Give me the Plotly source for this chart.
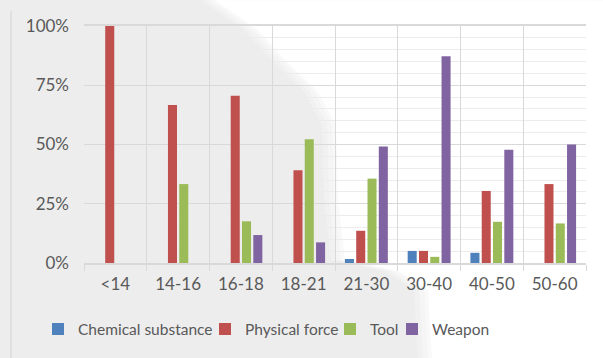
import plotly.graph_objects as go

# Age groups and share of each method per group
age_groups = ["<14", "14-16", "16-18", "18-21", "21-30", "30-40", "40-50", "50-60"]
chemical = [0, 0, 0, 0, 0.017, 0.051, 0.043, 0]
physical = [1.0, 0.667, 0.706, 0.391, 0.136, 0.051, 0.304, 0.333]
tool = [0, 0.333, 0.176, 0.522, 0.356, 0.026, 0.174, 0.167]
weapon = [0, 0, 0.118, 0.087, 0.492, 0.872, 0.478, 0.5]
y_ticks = [0, 0.25, 0.5, 0.75, 1.0]
y_tick_text = ["0%", "25%", "50%", "75%", "100%"]

series = [
    ("Chemical substance", chemical, "#4F81BD"),
    ("Physical force", physical, "#C0504D"),
    ("Tool", tool, "#9BBB59"),
    ("Weapon", weapon, "#8064A2"),
]

W, H = 603, 358
ML, MR, MT, MB = 84, 17, 26, 93
PW, PH = W - ML - MR, H - MT - MB


def px(x, y):
    """Convert a pixel position on the page to paper coordinates."""
    return (x - ML) / PW, (H - MB - y) / PH


def path(points, dx=0):
    pts = [px(x + dx, y) for x, y in points]
    return "M" + " L".join(f"{a:.4f},{b:.4f}" for a, b in pts) + " Z"


# Each legend entry sits in its own legend box so the row spacing can be set
legend_left = [38, 205, 330, 392]
legend_names = ["legend", "legend2", "legend3", "legend4"]

fig = go.Figure()
for (name, vals, color), lg in zip(series, legend_names):
    fig.add_trace(go.Bar(
        x=age_groups, y=vals, name=name, legend=lg,
        marker=dict(color=color, line=dict(width=0)),
    ))

# Soft white light sweeping over the grey backdrop
edge = [(215, 0), (W + 5, 0), (W + 5, H + 5), (432, H + 5), (428, 292), (398, 273),
        (345, 262), (338, 200), (336, 126), (318, 92), (285, 60), (258, 30)]
shapes = []
for dx, op in [(-14, 0.25), (-9, 0.3), (-4, 0.4), (0, 1.0)]:
    shapes.append(dict(type="path", xref="paper", yref="paper", path=path(edge, dx),
                       fillcolor="white", opacity=op, line=dict(width=0), layer="below"))
# Thin frame line at the left of the canvas
x0, y0 = px(11, 11)
x1, y1 = px(11, H + 5)
shapes.append(dict(type="line", xref="paper", yref="paper", x0=x0, y0=y0, x1=x1, y1=y1,
                   line=dict(color="#d6d6d6", width=1.2), layer="below"))

legends = {}
for lg, left in zip(legend_names, legend_left):
    lx, ly = px(left, 332)
    legends[lg] = dict(orientation="h", x=lx, y=ly, xanchor="left", yanchor="middle",
                       font=dict(size=15.5, color="#595959"), itemwidth=30,
                       bgcolor="rgba(0,0,0,0)")

fig.update_layout(
    width=W, height=H,
    margin=dict(l=ML, r=MR, t=MT, b=MB),
    paper_bgcolor="#ededed",
    plot_bgcolor="rgba(0,0,0,0)",
    font=dict(family="Lato", size=17, color="#595959"),
    barmode="group", bargap=0.28, bargroupgap=0.2,
    shapes=shapes,
    showlegend=True,
    xaxis=dict(
        type="category", tickson="boundaries", ticks="outside", ticklen=6,
        tickcolor="#d9d9d9", showgrid=True, gridcolor="#d9d9d9", gridwidth=1,
        showline=True, linecolor="#d9d9d9", linewidth=1.5, mirror=True,
        zeroline=False, ticklabelstandoff=5,
    ),
    yaxis=dict(
        range=[0, 1], tickvals=y_ticks, ticktext=y_tick_text,
        showgrid=True, gridcolor="#d9d9d9", gridwidth=1.2,
        minor=dict(dtick=0.05, showgrid=True, gridcolor="#ececec", gridwidth=1),
        zeroline=False, showline=False, ticks="", ticklabelstandoff=14,
    ),
    **legends,
)

fig.write_html("out.html")
